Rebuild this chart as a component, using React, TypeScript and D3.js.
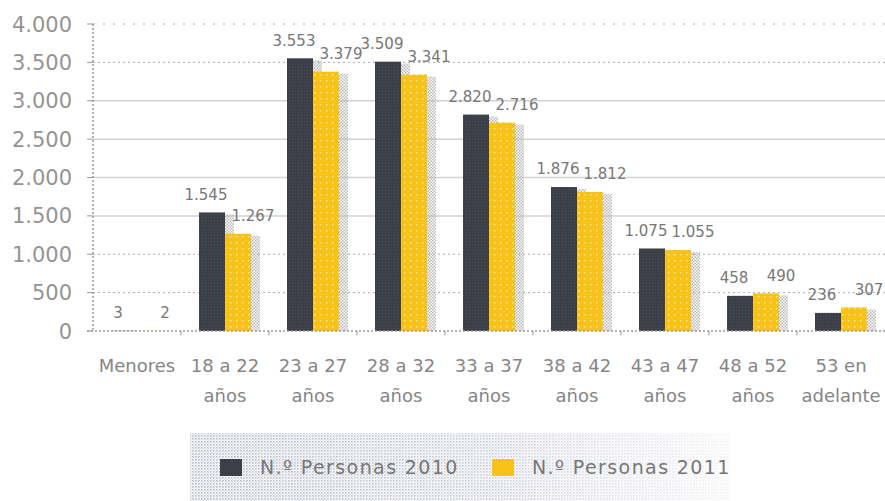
import React from "react";
import * as d3 from "d3";

const categories = [
  "Menores",
  "18 a 22 años",
  "23 a 27 años",
  "28 a 32 años",
  "33 a 37 años",
  "38 a 42 años",
  "43 a 47 años",
  "48 a 52 años",
  "53 en adelante",
];
const categoryLines = [
  ["Menores"],
  ["18 a 22", "años"],
  ["23 a 27", "años"],
  ["28 a 32", "años"],
  ["33 a 37", "años"],
  ["38 a 42", "años"],
  ["43 a 47", "años"],
  ["48 a 52", "años"],
  ["53 en", "adelante"],
];
const series = ["N.º Personas 2010", "N.º Personas 2011"];
const personas2010 = [3, 1545, 3553, 3509, 2820, 1876, 1075, 458, 236];
const personas2011 = [2, 1267, 3379, 3341, 2716, 1812, 1055, 490, 307];
const yTicks = [0, 500, 1000, 1500, 2000, 2500, 3000, 3500, 4000];

const W = 885;
const H = 501;
const margin = { left: 93, right: 0, top: 24, bottom: 331 };
const dashedTicks = new Set([500, 1000, 3500, 4000]);
const colors = ["#3c3f48", "#f7c21a"];
const font = "'DejaVu Sans', sans-serif";

const fmt = (v: number) => d3.format(",")(v).replace(/,/g, ".");

export default function App() {
  const x = d3.scaleBand<string>().domain(categories).range([margin.left, W - margin.right]);
  const barW = 26;
  const inner = d3.scaleBand<string>().domain(series).range([-barW, barW]);
  const y = d3.scaleLinear().domain([0, 4000]).range([margin.bottom, margin.top]);
  const values = [personas2010, personas2011];

  return (
    <svg
      width={W}
      height={H}
      style={{ position: "absolute", left: 0, top: 0, background: "#fff" }}
      fontFamily={font}
    >
      <defs>
        <pattern id="yel" width="6" height="6" patternUnits="userSpaceOnUse">
          <rect width="6" height="6" fill={colors[1]} />
          <rect x="2" y="2" width="1.5" height="1.5" fill="#fde79a" />
        </pattern>
        <pattern id="drk" width="3" height="3" patternUnits="userSpaceOnUse">
          <rect width="3" height="3" fill={colors[0]} />
          <rect x="1" y="1" width="1" height="1" fill="#4a4e58" />
        </pattern>
        <pattern id="shd" width="3" height="3" patternUnits="userSpaceOnUse">
          <rect x="0" y="0" width="1.5" height="1.5" fill="#b8b8b8" />
          <rect x="1.5" y="1.5" width="1.5" height="1.5" fill="#b8b8b8" />
        </pattern>
        <pattern id="leg" width="3" height="3" patternUnits="userSpaceOnUse">
          <rect x="0" y="0" width="1.6" height="1.6" fill="#b4b7c9" />
          <rect x="1.5" y="1.5" width="1.2" height="1.2" fill="#c9cbdb" />
        </pattern>
        <linearGradient id="fade" x1="0" x2="1" y1="0" y2="0">
          <stop offset="0" stopColor="#fff" stopOpacity="1" />
          <stop offset="0.55" stopColor="#fff" stopOpacity="0.75" />
          <stop offset="1" stopColor="#fff" stopOpacity="0.15" />
        </linearGradient>
        <mask id="legmask">
          <rect x="190" y="433" width="540" height="68" fill="url(#fade)" />
        </mask>
      </defs>

      {/* grid */}
      {yTicks.map((t) => (
        <g key={t}>
          {t > 0 && (
            <line
              x1={margin.left}
              x2={W}
              y1={y(t)}
              y2={y(t)}
              stroke={dashedTicks.has(t) ? "#aaa" : "#d2d2d2"}
              strokeWidth={dashedTicks.has(t) ? 1 : 1.5}
              strokeDasharray={t === 4000 ? "2,8" : dashedTicks.has(t) ? "2,3" : undefined}
            />
          )}
          <line x1={margin.left - 6} x2={margin.left} y1={y(t)} y2={y(t)} stroke="#999" />
          <text
            x={72}
            y={y(t)}
            dy="0.36em"
            textAnchor="end"
            fontSize={21}
            fill="#949494"
          >
            {fmt(t)}
          </text>
        </g>
      ))}

      {/* bars */}
      {categories.map((c, i) => {
        const cx = (x(c) ?? 0) + x.bandwidth() / 2;
        return (
          <g key={c}>
            {series.map((s, k) => {
              const v = values[k][i];
              const bx = cx + (inner(s) ?? 0);
              return (
                <rect
                  key={"s" + s}
                  x={bx + 6}
                  y={y(v) + 2}
                  width={barW + 3}
                  height={Math.max(0, y(0) - y(v) - 2)}
                  fill="url(#shd)"
                />
              );
            })}
            {series.map((s, k) => {
              const v = values[k][i];
              const bx = cx + (inner(s) ?? 0);
              return (
                <rect
                  key={s}
                  x={bx}
                  y={y(v)}
                  width={inner.bandwidth()}
                  height={y(0) - y(v)}
                  fill={k === 0 ? "url(#drk)" : "url(#yel)"}
                />
              );
            })}
            {series.map((s, k) => {
              const v = values[k][i];
              const bx = cx + (inner(s) ?? 0);
              const lx = k === 0 ? bx + 7 : bx + barW + 2;
              return (
                <text
                  key={"t" + s}
                  x={lx}
                  y={y(v) - 18}
                  dy="0.36em"
                  textAnchor="middle"
                  fontSize={15}
                  fill="#777"
                >
                  {fmt(v)}
                </text>
              );
            })}
            {categoryLines[i].map((ln, j) => (
              <text
                key={ln}
                x={cx}
                y={372 + j * 30}
                textAnchor="middle"
                fontSize={18}
                fill="#858585"
              >
                {ln}
              </text>
            ))}
          </g>
        );
      })}

      {/* axes */}
      <line
        x1={margin.left}
        x2={margin.left}
        y1={margin.top}
        y2={y(0)}
        stroke="#999"
        strokeWidth={1.5}
        strokeDasharray="2,2"
      />
      <line
        x1={margin.left - 6}
        x2={W}
        y1={y(0)}
        y2={y(0)}
        stroke="#999"
        strokeWidth={1.5}
        strokeDasharray="2,2"
      />
      {categories.slice(1).map((c) => (
        <line key={c} x1={x(c)} x2={x(c)} y1={y(0)} y2={y(0) + 4} stroke="#888" />
      ))}

      {/* legend */}
      <rect x="190" y="433" width="540" height="68" fill="url(#leg)" mask="url(#legmask)" />
      {series.map((s, k) => {
        const lx = k === 0 ? 220 : 492;
        return (
          <g key={s}>
            <rect x={lx} y={459} width={22} height={17} fill={colors[k]} />
            <text
              x={lx + 40}
              y={467}
              dy="0.36em"
              fontSize={19}
              letterSpacing={1.4}
              fill="#777"
            >
              {s}
            </text>
          </g>
        );
      })}
    </svg>
  );
}
